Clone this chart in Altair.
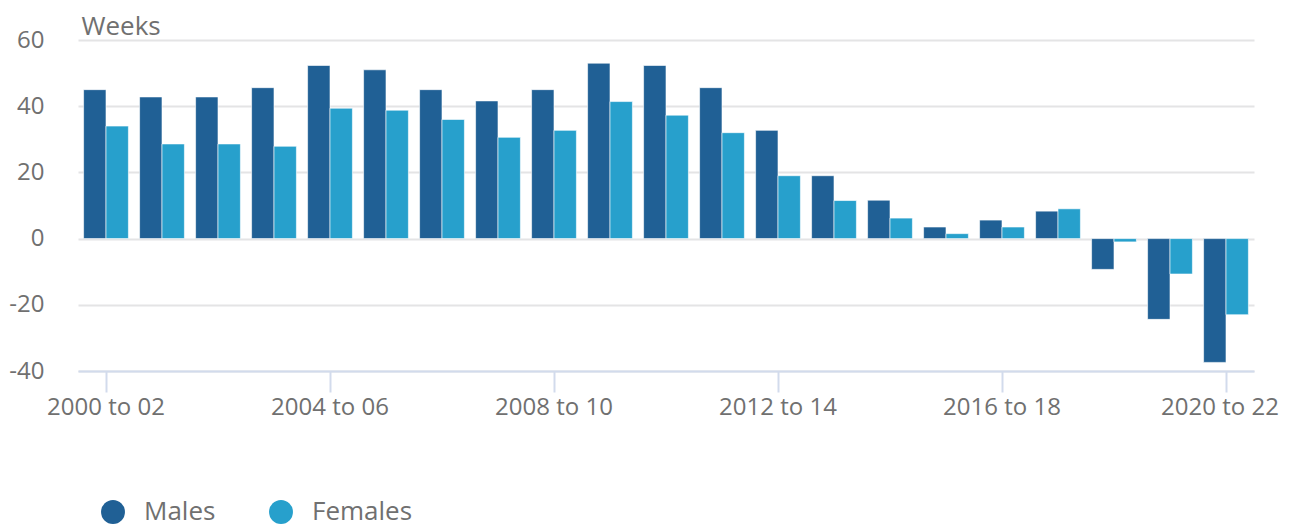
import altair as alt
import pandas as pd

categories = [
    "2000 to 02", "2001 to 03", "2002 to 04", "2003 to 05", "2004 to 06",
    "2005 to 07", "2006 to 08", "2007 to 09", "2008 to 10", "2009 to 11",
    "2010 to 12", "2011 to 13", "2012 to 14", "2013 to 15", "2014 to 16",
    "2015 to 17", "2016 to 18", "2017 to 19", "2018 to 20", "2019 to 21",
    "2020 to 22",
]
males = [45.0, 42.8, 42.8, 45.6, 52.3, 51.0, 45.0, 41.6, 45.0, 53.0, 52.3,
         45.6, 32.7, 19.0, 11.6, 3.5, 5.6, 8.3, -9.3, -24.4, -37.4]
females = [34.0, 28.6, 28.6, 27.9, 39.4, 38.8, 36.0, 30.6, 32.7, 41.4, 37.3,
           32.0, 19.0, 11.5, 6.2, 1.5, 3.5, 9.0, -1.0, -10.7, -23.0]
series = ["Males", "Females"]
colors = ["#206095", "#27a0cc"]
x_label_values = categories[::4]
y_ticks = [-40, -20, 0, 20, 40, 60]

rows = []
for c, m, f in zip(categories, males, females):
    rows.append({"period": c, "sex": "Males", "value": m})
    rows.append({"period": c, "sex": "Females", "value": f})
df = pd.DataFrame(rows)

FONT = "Open Sans"
TXT = "#707070"

chart = alt.Chart(df).mark_bar(stroke="white", strokeWidth=1, strokeOpacity=0.6).encode(
    x=alt.X("period:N", sort=categories,
            scale=alt.Scale(paddingInner=0.2, paddingOuter=0.1),
            axis=alt.Axis(title=None, values=x_label_values, labelAngle=0,
                          grid=False, domainColor="#d2dbec", domainWidth=2,
                          tickColor="#d2dbec", tickWidth=2, tickSize=21,
                          labelFontSize=24, labelColor=TXT, labelFont=FONT,
                          labelOffset={"condition": {"test": "datum.label == '2020 to 22'",
                                                     "value": -6},
                                       "value": 0},
                          labelPadding=3)),
    xOffset=alt.XOffset("sex:N", sort=series),
    y=alt.Y("value:Q",
            scale=alt.Scale(domain=[-40, 60], nice=False),
            axis=alt.Axis(values=y_ticks, title="Weeks", titleAngle=0,
                          titleAlign="left", titleBaseline="alphabetic",
                          titleX=3, titleY=-6, titleFontSize=26,
                          titleFontWeight="normal", titleColor=TXT, titleFont=FONT,
                          domain=False, ticks=False, tickSize=0,
                          gridColor="#e4e4e5", gridWidth=2,
                          labelExpr="'' + datum.value",
                          labelFontSize=24, labelColor=TXT, labelFont=FONT,
                          labelPadding=34)),
    color=alt.Color("sex:N", sort=series,
                    scale=alt.Scale(domain=series, range=colors),
                    legend=alt.Legend(title=None, orient="none", direction="horizontal",
                                      legendX=22, legendY=459, symbolType="circle",
                                      symbolSize=572, symbolStrokeWidth=0,
                                      labelFontSize=26, labelColor=TXT, labelFont=FONT,
                                      labelOffset=18, columnPadding=52, padding=0)),
).properties(
    width=1176,
    height=331,
    autosize=alt.AutoSizeParams(type="none"),
    padding={"left": 70, "top": 32, "right": 28, "bottom": 153},
).configure_view(stroke=None)

chart.save("out.html", embed_options={"renderer": "svg", "actions": False})
